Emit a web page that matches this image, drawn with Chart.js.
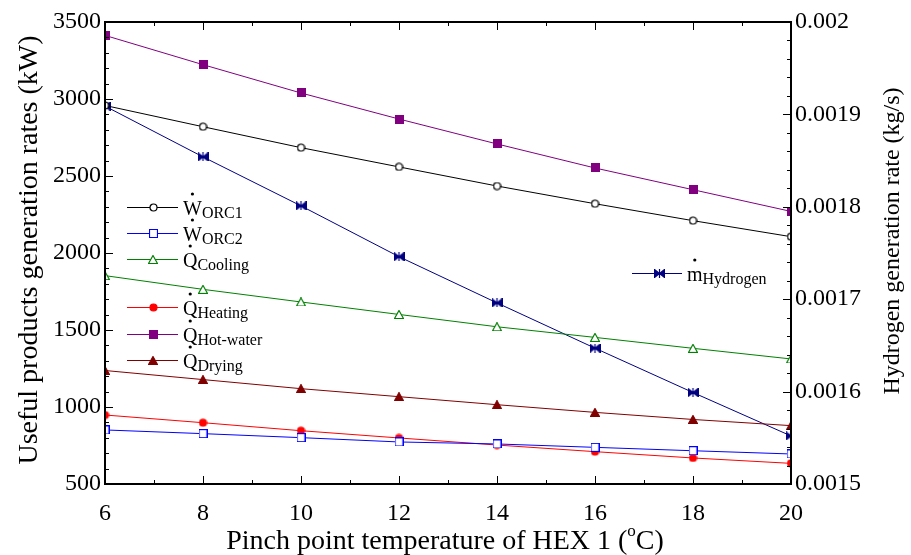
<!DOCTYPE html>
<html>
<head>
<meta charset="utf-8">
<script src="https://cdn.jsdelivr.net/npm/chart.js@4/dist/chart.umd.min.js"></script>
<style>
  html, body { margin: 0; padding: 0; background: #fff; }
</style>
</head>
<body>
<canvas id="chart" width="911" height="555"></canvas>
<script>
// ---- data ----
const pinchTemps = [6, 8, 10, 12, 14, 16, 18, 20];
const wOrc1     = [2958, 2820, 2684, 2559, 2435, 2320, 2210, 2106];
const wOrc2     = [851, 827, 801, 773, 760, 738, 716, 695];
const qCooling  = [1853, 1764, 1682, 1601, 1521, 1452, 1381, 1312];
const qHeating  = [948, 898, 846, 799, 753, 710, 669, 634];
const qHotWater = [3413, 3223, 3039, 2870, 2708, 2552, 2411, 2270];
const qDrying   = [1237, 1178, 1119, 1067, 1015, 965, 919, 879];
const mHydrogen = [0.001909, 0.001854, 0.001801, 0.001746, 0.001696, 0.001647, 0.001599, 0.001552];

const xBounds  = [6, 20, 2];            // min, max, step
const yBounds  = [500, 3500, 500];
const y1Bounds = [0.0015, 0.002, 0.0001];

const seriesSymbols = ["W", "W", "Q", "Q", "Q", "Q", "m"];
const seriesSubs    = ["ORC1", "ORC2", "Cooling", "Heating", "Hot-water", "Drying", "Hydrogen"];

const FONT = '"Liberation Serif", "Times New Roman", serif';

// ---- marker images ----
const makeMarker = (shape, stroke, fill, w, h) => {
    const cv = document.createElement("canvas");
    cv.width = w;
    cv.height = h;
    const g = cv.getContext("2d");
    g.strokeStyle = stroke;
    g.fillStyle = fill;
    g.lineWidth = 1.2;
    g.beginPath();
    if (shape === "circle") {
        g.arc(w / 2, h / 2, w / 2 - 1, 0, 2 * Math.PI);
    } else if (shape === "square") {
        g.rect(0.5, 0.5, w - 1, h - 1);
    } else if (shape === "triangle") {
        g.moveTo(w / 2, 0.5);
        g.lineTo(w - 0.5, h - 0.5);
        g.lineTo(0.5, h - 0.5);
        g.closePath();
    } else if (shape === "bowtie") {
        g.moveTo(0.5, 0.5);
        g.lineTo(w / 2, h / 2);
        g.lineTo(0.5, h - 0.5);
        g.closePath();
        g.moveTo(w - 0.5, 0.5);
        g.lineTo(w / 2, h / 2);
        g.lineTo(w - 0.5, h - 0.5);
        g.closePath();
    }
    g.fill();
    g.stroke();
    if (shape === "bowtie") {
        g.beginPath();
        g.moveTo(w / 2, 0);
        g.lineTo(w / 2, h);
        g.stroke();
    }
    return cv;
};

const series = [
    { data: wOrc1,     color: "#000000", marker: makeMarker("circle", "#000000", "#ffffff", 9, 9), axis: "y" },
    { data: wOrc2,     color: "#0000ff", marker: makeMarker("square", "#0000ff", "#ffffff", 9, 9), axis: "y" },
    { data: qCooling,  color: "#008000", marker: makeMarker("triangle", "#008000", "#ffffff", 10, 9), axis: "y" },
    { data: qHeating,  color: "#ff0000", marker: makeMarker("circle", "#ff0000", "#ff0000", 9, 9), axis: "y" },
    { data: qHotWater, color: "#800080", marker: makeMarker("square", "#800080", "#800080", 9, 9), axis: "y" },
    { data: qDrying,   color: "#800000", marker: makeMarker("triangle", "#800000", "#800000", 10, 9), axis: "y" },
    { data: mHydrogen, color: "#000080", marker: makeMarker("bowtie", "#000080", "#000080", 11, 9), axis: "y1" }
];

const datasets = series.map((s, i) => ({
    label: seriesSymbols[i] + seriesSubs[i],
    data: pinchTemps.map((t, k) => ({ x: t, y: s.data[k] })),
    yAxisID: s.axis,
    borderColor: s.color,
    backgroundColor: s.color,
    borderWidth: 1,
    pointStyle: s.marker,
    pointRadius: 5,
    pointHoverRadius: 5,
    tension: 0
}));

// ---- frame, inward ticks, titles, legend ----
const drawLabel = (ctx, x, y, main, sub) => {
    ctx.fillStyle = "#000";
    ctx.textAlign = "left";
    ctx.textBaseline = "alphabetic";
    ctx.font = `20px ${FONT}`;
    ctx.fillText(main, x, y + 8);
    const w = ctx.measureText(main).width;
    ctx.beginPath();
    ctx.arc(x + w / 2, y - 13, 1.6, 0, 2 * Math.PI);
    ctx.fill();
    ctx.font = `16px ${FONT}`;
    ctx.fillText(sub, x + w, y + 11);
};

const legendRows = [
    { idx: 0, x: 127, y: 207 },
    { idx: 1, x: 127, y: 233 },
    { idx: 2, x: 127, y: 259 },
    { idx: 3, x: 127, y: 307 },
    { idx: 4, x: 127, y: 334 },
    { idx: 5, x: 127, y: 360 },
    { idx: 6, x: 632, y: 273 }
];

const framePlugin = {
    id: "frame",
    afterDraw(chart) {
        const { ctx, chartArea: a, scales } = chart;
        const xs = scales.x, ys = scales.y, y1 = scales.y1;
        ctx.save();

        // inward ticks
        ctx.strokeStyle = "#000";
        ctx.lineWidth = 1;
        ctx.beginPath();
        for (let v = xBounds[0]; v <= xBounds[1]; v += 1) {
            const px = Math.round(xs.getPixelForValue(v)) + 0.5;
            const len = (v % 2 === 0) ? 8 : 4;
            ctx.moveTo(px, a.bottom); ctx.lineTo(px, a.bottom - len);
            ctx.moveTo(px, a.top); ctx.lineTo(px, a.top + len);
        }
        for (let v = yBounds[0]; v <= yBounds[1]; v += 100) {
            const py = Math.round(ys.getPixelForValue(v)) + 0.5;
            const len = (v % 500 === 0) ? 8 : 4;
            ctx.moveTo(a.left, py); ctx.lineTo(a.left + len, py);
        }
        for (let k = 0; k <= 25; k++) {
            const v = y1Bounds[0] + k * 0.00002;
            const py = Math.round(y1.getPixelForValue(v)) + 0.5;
            const len = (k % 5 === 0) ? 8 : 4;
            ctx.moveTo(a.right, py); ctx.lineTo(a.right - len, py);
        }
        ctx.stroke();

        // box
        ctx.lineWidth = 2;
        ctx.strokeRect(a.left, a.top, a.right - a.left, a.bottom - a.top);

        // axis titles
        ctx.fillStyle = "#000";
        ctx.textAlign = "center";
        ctx.textBaseline = "middle";
        ctx.font = `28px ${FONT}`;
        ctx.save();
        ctx.translate(30, 250);
        ctx.rotate(-Math.PI / 2);
        ctx.fillText("Useful products generation rates (kW)", 0, 0);
        ctx.restore();
        ctx.font = `24px ${FONT}`;
        ctx.save();
        ctx.translate(893, 241);
        ctx.rotate(-Math.PI / 2);
        ctx.fillText("Hydrogen generation rate (kg/s)", 0, 0);
        ctx.restore();

        // x title with superscript o
        ctx.textBaseline = "alphabetic";
        ctx.textAlign = "left";
        const t1 = "Pinch point temperature of HEX 1 (", t2 = "o", t3 = "C)";
        ctx.font = `28px ${FONT}`;
        const w1 = ctx.measureText(t1).width, w3 = ctx.measureText(t3).width;
        ctx.font = `17px ${FONT}`;
        const w2 = ctx.measureText(t2).width;
        let tx = 445 - (w1 + w2 + w3) / 2;
        ctx.font = `28px ${FONT}`;
        ctx.fillText(t1, tx, 549);
        ctx.font = `17px ${FONT}`;
        ctx.fillText(t2, tx + w1, 536);
        ctx.font = `28px ${FONT}`;
        ctx.fillText(t3, tx + w1 + w2, 549);

        // legend
        legendRows.forEach(r => {
            const s = series[r.idx];
            const lineEnd = r.idx === 6 ? r.x + 50 : r.x + 51;
            ctx.strokeStyle = s.color;
            ctx.lineWidth = 1;
            ctx.beginPath();
            ctx.moveTo(r.x, r.y + 0.5);
            ctx.lineTo(lineEnd, r.y + 0.5);
            ctx.stroke();
            const mx = r.idx === 6 ? r.x + 27 : r.x + 26;
            ctx.drawImage(s.marker, Math.round(mx - s.marker.width / 2), Math.round(r.y - s.marker.height / 2));
            drawLabel(ctx, lineEnd + 5, r.y, seriesSymbols[r.idx], seriesSubs[r.idx]);
        });

        ctx.restore();
    }
};

const tickFont = { family: FONT, size: 24 };

new Chart(document.getElementById("chart"), {
    type: "line",
    data: { datasets: datasets },
    options: {
        responsive: false,
        animation: false,
        devicePixelRatio: 1,
        layout: { padding: { top: 22, left: 0, right: 0, bottom: 0 } },
        plugins: { legend: { display: false }, tooltip: { enabled: false } },
        scales: {
            x: {
                type: "linear",
                min: xBounds[0], max: xBounds[1],
                ticks: { stepSize: xBounds[2], color: "#000", font: tickFont, padding: 15, maxRotation: 0 },
                grid: { display: false, drawTicks: false },
                border: { display: false },
                afterFit: (scale) => { scale.height = 71; }
            },
            y: {
                position: "left",
                min: yBounds[0], max: yBounds[1],
                ticks: {
                    stepSize: yBounds[2], color: "#000", font: tickFont, padding: 4,
                    callback: (v) => String(v)
                },
                grid: { display: false, drawTicks: false },
                border: { display: false },
                afterFit: (scale) => { scale.width = 105; }
            },
            y1: {
                position: "right",
                min: y1Bounds[0], max: y1Bounds[1],
                ticks: {
                    stepSize: y1Bounds[2], color: "#000", font: tickFont, padding: 4,
                    callback: (v) => String(+v.toFixed(4))
                },
                grid: { display: false, drawTicks: false },
                border: { display: false },
                afterFit: (scale) => { scale.width = 120; }
            }
        }
    },
    plugins: [framePlugin]
});
</script>
</body>
</html>
